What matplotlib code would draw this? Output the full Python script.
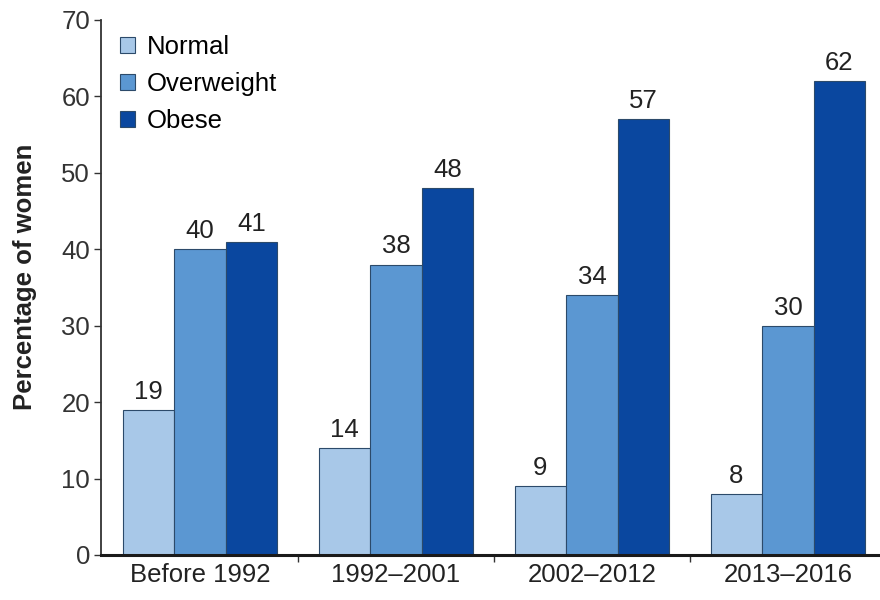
import matplotlib
matplotlib.use("Agg")
import matplotlib.pyplot as plt
import numpy as np

periods = ["Before 1992", "1992\u20132001", "2002\u20132012", "2013\u20132016"]
normal = [19, 14, 9, 8]
overweight = [40, 38, 34, 30]
obese = [41, 48, 57, 62]
series_names = ["Normal", "Overweight", "Obese"]
colors = ["#a8c8e8", "#5b97d2", "#0a479f"]

plt.rcParams["font.family"] = ["Liberation Sans", "DejaVu Sans"]
FS = 18.5

fig = plt.figure(figsize=(8.8, 6), dpi=100)
ax = fig.add_axes([0.1148, 0.075, 0.8852, 0.8917])

x = np.arange(len(periods))
w = 0.263
for i, (vals, name, c) in enumerate(zip([normal, overweight, obese], series_names, colors)):
    pos = x + (i - 1) * w
    bars = ax.bar(pos, vals, width=w, color=c, edgecolor="#2c4a6a", linewidth=0.8, label=name)
    for b, v in zip(bars, vals):
        ax.text(b.get_x() + b.get_width() / 2, v + 0.8, str(v), ha="center", va="bottom",
                fontsize=FS, color="#222222")

ax.set_xlim(-0.505, 3.47)
ax.set_ylim(0, 70)
ax.set_yticks(range(0, 71, 10))
ax.tick_params(axis="y", labelsize=FS, length=5, width=1, colors="#333333", pad=3)

ax.set_xticks(x)
ax.set_xticklabels(periods, fontsize=FS, color="#222222")
ax.tick_params(axis="x", length=0, pad=6)
ax.set_xticks([0.5, 1.5, 2.5], minor=True)
ax.tick_params(axis="x", which="minor", length=5, width=1, colors="#333333")

for s in ["top", "right"]:
    ax.spines[s].set_visible(False)
ax.spines["left"].set_linewidth(1.3)
ax.spines["left"].set_color("#333333")
ax.spines["bottom"].set_linewidth(2.2)
ax.spines["bottom"].set_color("#1a1a1a")

ax.set_ylabel("Percentage of women", fontsize=FS, fontweight="bold", color="#222222")
ax.yaxis.set_label_coords(-0.082, 0.52)

leg = ax.legend(loc="upper left", bbox_to_anchor=(0.004, 1.0), frameon=False, fontsize=FS,
                handlelength=0.6, handleheight=0.6, handletextpad=0.45, labelspacing=0.5,
                borderaxespad=0.2)

fig.savefig("out.png", dpi=100)
